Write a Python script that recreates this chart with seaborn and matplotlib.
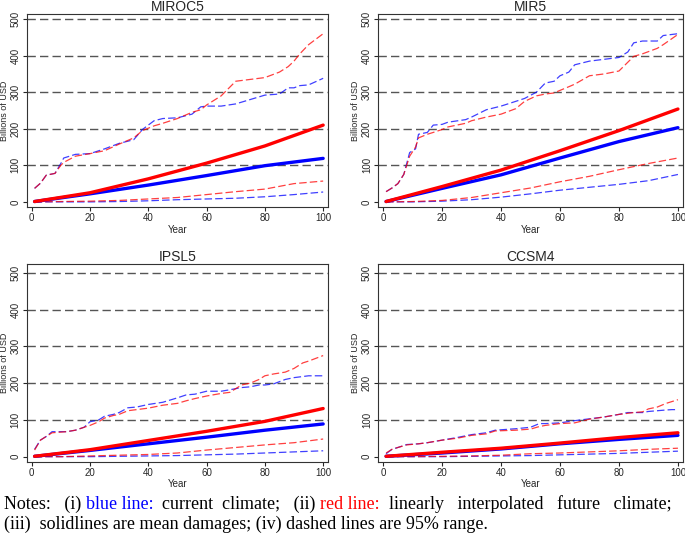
import matplotlib
matplotlib.use("Agg")
import matplotlib.pyplot as plt
import seaborn as sns
import pandas as pd
from matplotlib.offsetbox import TextArea, HPacker, VPacker, AnchoredOffsetbox

sns.set_style("white")
plt.rcParams['font.family'] = ['Liberation Sans', 'DejaVu Sans']

# ---- data (billions of USD by year) ----
MEAN_YEARS = [1, 20, 40, 60, 80, 100]
LOW_YEARS = [1, 10, 20, 30, 40, 50, 60, 70, 80, 90, 100]

# MIROC5
miroc_blue_mean = [1, 22, 46, 72, 99, 119]
miroc_red_mean = [1, 25, 63, 106, 153, 210]
miroc_up_years = [1, 3, 5, 8, 10, 11, 15, 20, 25, 30, 35, 38, 42, 45, 50, 55, 58, 60, 65, 70, 75, 80, 85, 88, 90, 92, 95, 100]
miroc_blue_up = [37, 51, 73, 78, 105, 120, 130, 132, 145, 160, 170, 198, 222, 228, 230, 240, 260, 262, 262, 268, 280, 292, 295, 312, 312, 318, 320, 338]
miroc_red_up = [37, 51, 73, 78, 100, 108, 125, 132, 140, 158, 175, 195, 208, 215, 228, 245, 252, 265, 290, 330, 335, 340, 355, 370, 385, 405, 430, 460]
miroc_blue_low = [0, 0, 0, 1, 3, 6, 8, 10, 14, 20, 27]
miroc_red_low = [0, 1, 2, 4, 8, 12, 20, 28, 35, 50, 57]

# MIR5
mir_blue_mean = [1, 37, 74, 120, 165, 203]
mir_red_mean = [1, 42, 87, 140, 195, 254]
mir_up_years = [1, 3, 5, 7, 9, 11, 12, 15, 17, 20, 22, 28, 30, 35, 40, 45, 48, 52, 55, 58, 60, 63, 65, 70, 75, 80, 83, 85, 88, 93, 95, 100]
mir_blue_up = [28, 38, 50, 75, 135, 145, 185, 190, 210, 212, 218, 225, 232, 252, 262, 275, 283, 300, 325, 330, 345, 355, 375, 385, 390, 395, 410, 435, 440, 440, 455, 460]
mir_red_up = [28, 38, 50, 75, 125, 150, 175, 185, 190, 198, 205, 215, 222, 232, 240, 255, 275, 290, 295, 298, 305, 315, 322, 345, 350, 358, 382, 398, 405, 420, 430, 458]
mir_blue_low = [0, 0, 2, 6, 13, 22, 32, 40, 48, 58, 75]
mir_red_low = [0, 1, 4, 12, 25, 38, 55, 70, 88, 105, 120]

# IPSL5
ipsl_blue_mean = [1, 17, 35, 53, 72, 89]
ipsl_red_mean = [1, 19, 44, 69, 96, 131]
ipsl_up_years = [1, 3, 5, 7, 12, 15, 18, 20, 23, 25, 28, 30, 33, 36, 40, 45, 50, 53, 56, 60, 65, 68, 72, 75, 78, 80, 83, 87, 90, 93, 95, 100]
ipsl_blue_up = [20, 45, 55, 68, 68, 72, 80, 95, 100, 110, 115, 120, 133, 135, 142, 148, 160, 168, 170, 178, 178, 182, 188, 190, 195, 195, 198, 210, 215, 218, 220, 220]
ipsl_red_up = [18, 45, 55, 65, 68, 72, 80, 85, 95, 105, 112, 115, 125, 128, 132, 140, 145, 152, 158, 165, 172, 175, 195, 200, 210, 220, 225, 230, 240, 255, 260, 275]
ipsl_blue_low = [0, 0, 0, 1, 2, 3, 5, 7, 10, 13, 16]
ipsl_red_low = [0, 0, 2, 4, 6, 10, 18, 25, 32, 38, 48]

# CCSM4
ccsm_blue_mean = [1, 10, 21, 35, 47, 58]
ccsm_red_mean = [1, 12, 23, 37, 52, 65]
ccsm_up_years = [1, 3, 5, 8, 12, 15, 20, 25, 30, 35, 38, 45, 50, 53, 55, 60, 65, 70, 75, 80, 83, 85, 88, 90, 93, 96, 98, 100]
ccsm_blue_up = [8, 20, 25, 33, 35, 38, 45, 52, 60, 65, 72, 76, 80, 90, 90, 92, 98, 103, 108, 115, 120, 120, 120, 123, 125, 127, 128, 128]
ccsm_red_up = [10, 20, 25, 32, 35, 38, 45, 50, 58, 62, 70, 72, 75, 82, 85, 90, 92, 102, 108, 115, 118, 120, 122, 130, 135, 145, 150, 155]
ccsm_blue_low = [0, 0, 0, 1, 2, 3, 5, 7, 9, 12, 15]
ccsm_red_low = [0, 0, 1, 2, 4, 8, 10, 13, 16, 20, 23]

MODELS = ["MIROC5", "MIR5", "IPSL5", "CCSM4"]
panels = [
    (miroc_blue_mean, miroc_red_mean, miroc_up_years, miroc_blue_up, miroc_red_up, miroc_blue_low, miroc_red_low),
    (mir_blue_mean, mir_red_mean, mir_up_years, mir_blue_up, mir_red_up, mir_blue_low, mir_red_low),
    (ipsl_blue_mean, ipsl_red_mean, ipsl_up_years, ipsl_blue_up, ipsl_red_up, ipsl_blue_low, ipsl_red_low),
    (ccsm_blue_mean, ccsm_red_mean, ccsm_up_years, ccsm_blue_up, ccsm_red_up, ccsm_blue_low, ccsm_red_low),
]

BLUE = "#0000ff"
RED = "#ff0000"

fig = plt.figure(figsize=(6.85, 5.37), dpi=100)

rects = [
    (0.039, 0.6145, 0.440, 0.3595),
    (0.552, 0.6145, 0.445, 0.3595),
    (0.039, 0.140, 0.440, 0.369),
    (0.552, 0.140, 0.445, 0.369),
]
ylims = [(-14, 514), (-14, 514), (-14, 525), (-14, 525)]

for i, (name, data) in enumerate(zip(MODELS, panels)):
    b_mean, r_mean, up_yr, b_up, r_up, b_low, r_low = data
    ax = fig.add_axes(rects[i])

    for y in [100, 200, 300, 400, 500]:
        ax.axhline(y, color="#555555", ls=(0, (6, 3)), lw=1.0, zorder=1)

    dash = dict(lw=0.9, alpha=0.75, dashes=(6, 2.5))
    sns.lineplot(x=up_yr, y=b_up, ax=ax, color=BLUE, **dash)
    sns.lineplot(x=up_yr, y=r_up, ax=ax, color=RED, **dash)
    sns.lineplot(x=LOW_YEARS, y=b_low, ax=ax, color=BLUE, **dash)
    sns.lineplot(x=LOW_YEARS, y=r_low, ax=ax, color=RED, **dash)
    sns.lineplot(x=MEAN_YEARS, y=b_mean, ax=ax, color=BLUE, lw=2.4)
    sns.lineplot(x=MEAN_YEARS, y=r_mean, ax=ax, color=RED, lw=2.4)

    ax.set_xlim(-1.7, 101.7)
    ax.set_ylim(*ylims[i])
    ax.set_xticks([0, 20, 40, 60, 80, 100])
    ax.set_yticks([0, 100, 200, 300, 400, 500])
    ax.tick_params(axis="both", labelsize=7, length=3, width=0.8,
                   direction="out", left=True, bottom=True, pad=1.5)
    plt.setp(ax.get_yticklabels(), rotation=90, va="center")
    for sp in ax.spines.values():
        sp.set_color("#333333")
        sp.set_linewidth(0.8)
    ax.set_title(name, fontsize=10, pad=2)
    ax.set_xlabel("Year", fontsize=7, labelpad=1)
    ax.set_ylabel("Billions of USD", fontsize=6.5)
    ax.yaxis.set_label_coords(-0.058, 0.5)

# notes with coloured words
serif = dict(family="Liberation Serif", size=13)
def part(s, c="black"):
    return TextArea(s, textprops=dict(color=c, **serif))

line1 = HPacker(children=[part("Notes:   (i) "), part("blue line:", BLUE),
                          part("  current  climate;   (ii) "), part("red line:", RED),
                          part("  linearly   interpolated   future   climate;")],
                align="baseline", pad=0, sep=0)
line2 = HPacker(children=[part("(iii)  solidlines are mean damages; (iv) dashed lines are 95% range.")],
                align="baseline", pad=0, sep=0)
notes = VPacker(children=[line1, line2], align="left", pad=0, sep=2)
box = AnchoredOffsetbox(loc="upper left", child=notes, bbox_to_anchor=(4 / 685, 1 - 495 / 537),
                        bbox_transform=fig.transFigure, frameon=False, pad=0, borderpad=0)
fig.add_artist(box)

fig.savefig("out.png", dpi=100)
